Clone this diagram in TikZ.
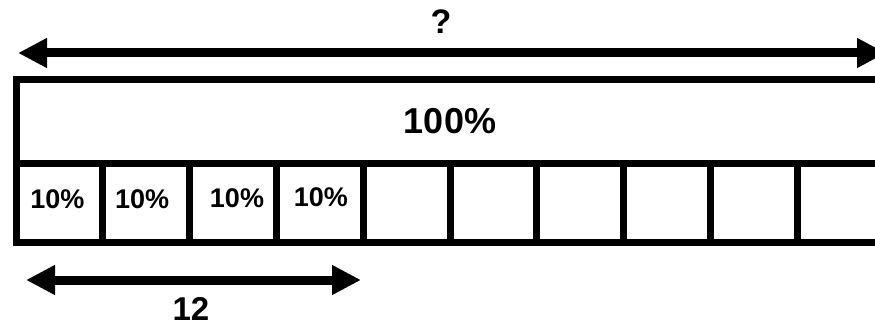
\documentclass[tikz,border=0pt]{standalone}
\usepackage{fontspec}
\setmainfont{Liberation Sans}
\usetikzlibrary{arrows.meta,positioning}

\begin{document}
\begin{tikzpicture}[
  x=1pt,y=-1pt,
  every node/.style={font=\bfseries},
  bar/.style={rectangle,draw,line width=7pt,minimum width=868pt,
              minimum height=83pt,inner sep=0pt,
              font=\fontsize{36}{36}\selectfont\bfseries},
  cell/.style={rectangle,draw,line width=7pt,minimum width=86.8pt,
               minimum height=79pt,inner sep=0pt},
  pct/.style={inner sep=0pt,font=\fontsize{27}{27}\selectfont\bfseries},
  tag/.style={inner sep=0pt,font=\fontsize{34}{34}\selectfont\bfseries},
  span/.style={{Triangle[length=29pt,width=28pt]}-{Triangle[length=29pt,width=28pt]},
               line width=9pt}
]
\useasboundingbox (0,0) rectangle (875,326);
\clip (0,0) rectangle (875,326);

%% ---- whole bar ----
\node[bar] (whole) at (450,121.5) {100\%};

%% ---- ten parts ----
\foreach \k in {0,...,9}{
  \node[cell] (part\k) at ({59.4+86.8*\k},202.5) {};
}
\foreach \k/\dx/\dy in {0/-2/3,1/-4/3,2/4/4,3/1/5}{
  \node[pct,xshift=\dx pt,yshift=\dy pt] (ten\k) at (part\k) {10\%};
}

%% ---- total arrow ----
\coordinate (totL) at (18,53);
\coordinate (totR) at (886,53);
\draw[span] (totL) -- (totR);
\node[tag] (ask) at (441,22) {?};

%% ---- known part arrow ----
\coordinate (knownL) at (26,280);
\coordinate (knownR) at (361,280);
\draw[span] (knownL) -- (knownR);
\node[tag,font=\fontsize{33}{33}\selectfont\bfseries] (given) at (191,309) {12};

\end{tikzpicture}
\end{document}
